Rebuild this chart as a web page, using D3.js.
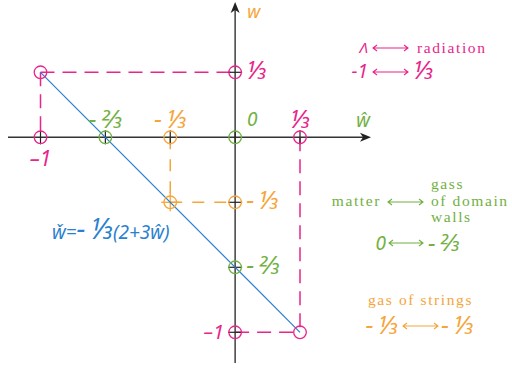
<!DOCTYPE html>
<html>
<head>
<meta charset="utf-8">
<script src="https://cdn.jsdelivr.net/npm/d3@7"></script>
<style>
  body { margin: 0; background: #fff; }
  svg { display: block; }
  .num { font-family: "Noto Sans", sans-serif; font-style: italic; }
  .word { font-family: "Liberation Serif", serif; letter-spacing: 1.6px; font-size: 15.5px; }
</style>
</head>
<body>
<svg width="512" height="368"></svg>
<script>
const svg = d3.select("svg");

const PINK = "#e8258a", GREEN = "#72b043", ORANGE = "#f5a53a", BLUE = "#2a7fcf";

// ====== Data ======
const pinkPoints = [[-1, 1/3], [0, 1/3], [-1, 0], [1/3, 0], [0, -1], [1/3, -1]];
const greenPoints = [[-2/3, 0], [0, 0], [0, -2/3]];
const orangePoints = [[-1/3, 0], [-1/3, -1/3], [0, -1/3]];

const lineEnds = [[-1, 1/3], [1/3, -1]];   // w = -1/3 (2 + 3 w^)

const pinkDashes = [
    [[-1, 1/3], [0, 1/3]],
    [[-1, 1/3], [-1, 0]],
    [[1/3, 0], [1/3, -1]],
    [[0, -1], [1/3, -1]]
];
const orangeDashes = [
    [[-1/3, 0], [-1/3, -1/3]],
    [[-1/3, -1/3], [0, -1/3]]
];

const axisXTicks = [-1, -2/3, -1/3, 0, 1/3];
const axisYTicks = [1/3, -1/3, -2/3, -1];

const xLabels = [
    {v: -1,   text: "–1", color: PINK,   size: 21, dy: 29},
    {v: -2/3, text: "–⅔", color: GREEN,  size: 17, dy: -9},
    {v: -1/3, text: "–⅓", color: ORANGE, size: 17, dy: -9},
    {v: 0,    text: "0",  color: GREEN,  size: 19, dy: -11, dx: 17},
    {v: 1/3,  text: "⅓",  color: PINK,   size: 17, dy: -9}
];
const yLabels = [
    {v: 1/3,  text: "⅓",  color: PINK,   size: 17, side: 1},
    {v: -1/3, text: "–⅓", color: ORANGE, size: 17, side: 1},
    {v: -2/3, text: "–⅔", color: GREEN,  size: 17, side: 1},
    {v: -1,   text: "–1", color: PINK,   size: 20, side: -1}
];

// ====== Scales ======
const x = d3.scaleLinear().domain([-1, 1/3]).range([40.5, 300]);
const y = d3.scaleLinear().domain([1/3, -1]).range([72.3, 332.3]);
const x0 = x(0), y0 = y(0);

// text with the fractions (and their minus sign) drawn larger
function fracText(t, str, size) {
    const parts = str.match(/–\s?[⅓⅔]|[⅓⅔]|[^⅓⅔–]+|–/g);
    t.selectAll("tspan").data(parts).enter().append("tspan")
        .attr("font-size", d => /[⅓⅔]/.test(d) ? size * 1.5 : size)
        .text(d => /[⅓⅔]/.test(d) ? d.replace(/–\s?/, "-\u2009") : d);
}

// ====== Axes ======
const axes = svg.append("g").attr("stroke", "#333").attr("stroke-width", 1.4);
axes.append("line").attr("x1", 8).attr("x2", 366).attr("y1", y0).attr("y2", y0);
axes.append("line").attr("x1", x0).attr("x2", x0).attr("y1", 363).attr("y2", 8);

svg.append("path")
    .attr("d", `M371,${y0} L360,${y0 - 4.5} L363,${y0} L360,${y0 + 4.5} Z`)
    .attr("fill", "#222");
svg.append("path")
    .attr("d", `M${x0},2 L${x0 - 4.5},13 L${x0},10 L${x0 + 4.5},13 Z`)
    .attr("fill", "#222");

// ====== Dashed guides ======
function dashes(data, color, pattern) {
    svg.append("g")
        .selectAll("line")
        .data(data)
        .enter().append("line")
            .attr("x1", d => x(d[0][0])).attr("y1", d => y(d[0][1]))
            .attr("x2", d => x(d[1][0])).attr("y2", d => y(d[1][1]))
            .attr("stroke", color)
            .attr("stroke-width", 1.5)
            .attr("stroke-dasharray", pattern);
}
dashes(pinkDashes, PINK, "14,8");
dashes(orangeDashes, ORANGE, "12,10");

// ====== Ticks ======
const ticks = svg.append("g").attr("stroke", "#222").attr("stroke-width", 1.2);
ticks.selectAll(".tx").data(axisXTicks).enter().append("line")
    .attr("x1", d => x(d)).attr("x2", d => x(d))
    .attr("y1", y0 - 7).attr("y2", y0 + 7);
ticks.selectAll(".ty").data(axisYTicks).enter().append("line")
    .attr("y1", d => y(d)).attr("y2", d => y(d))
    .attr("x1", x0 - 7).attr("x2", x0 + 7);

// orange cross at (-1/3,-1/3)
const oc = orangePoints[1];
svg.append("g").attr("stroke", ORANGE).attr("stroke-width", 1.3)
    .selectAll("line")
    .data([[-9, 0, 9, 0], [0, -10, 0, 9]])
    .enter().append("line")
        .attr("x1", d => x(oc[0]) + d[0]).attr("y1", d => y(oc[1]) + d[1])
        .attr("x2", d => x(oc[0]) + d[2]).attr("y2", d => y(oc[1]) + d[3]);

// ====== Main line ======
svg.append("line")
    .attr("x1", x(lineEnds[0][0])).attr("y1", y(lineEnds[0][1]))
    .attr("x2", x(lineEnds[1][0])).attr("y2", y(lineEnds[1][1]))
    .attr("stroke", BLUE)
    .attr("stroke-width", 1.2);

// ====== Circles ======
function circles(data, color) {
    svg.append("g")
        .selectAll("circle")
        .data(data)
        .enter().append("circle")
            .attr("cx", d => x(d[0])).attr("cy", d => y(d[1]))
            .attr("r", 6.3)
            .attr("fill", "none")
            .attr("stroke", color)
            .attr("stroke-width", 1.3);
}
circles(pinkPoints, PINK);
circles(greenPoints, GREEN);
circles(orangePoints, ORANGE);

// ====== Tick labels ======
svg.append("g").selectAll("text")
    .data(xLabels)
    .enter().append("text")
        .attr("class", "num")
        .attr("x", d => x(d.v) + (d.dx || 0))
        .attr("y", d => y0 + d.dy)
        .attr("text-anchor", "middle")
        .attr("fill", d => d.color)
        .each(function(d) { fracText(d3.select(this), d.text, d.size); });

svg.append("g").selectAll("text")
    .data(yLabels)
    .enter().append("text")
        .attr("class", "num")
        .attr("x", d => x0 + d.side * 11)
        .attr("y", d => y(d.v) + 7)
        .attr("text-anchor", d => d.side > 0 ? "start" : "end")
        .attr("fill", d => d.color)
        .each(function(d) { fracText(d3.select(this), d.text, d.size); });

// axis names
svg.append("text").attr("class", "num")
    .attr("x", x0 + 12).attr("y", 18)
    .attr("font-size", 18).attr("fill", ORANGE)
    .text("w");
svg.append("text").attr("class", "num")
    .attr("x", 363).attr("y", 127)
    .attr("text-anchor", "middle")
    .attr("font-size", 19).attr("fill", GREEN)
    .text("ŵ");

// formula
fracText(svg.append("text").attr("class", "num")
    .attr("x", 52).attr("y", 239)
    .attr("fill", BLUE), "w̌=– ⅓(2+3ŵ)", 19);

// ====== Legend ======
function arrow(g, x1, x2, yy, color) {
    g.append("path")
        .attr("d", `M${x1},${yy} H${x2} M${x1 + 4},${yy - 3} L${x1},${yy} L${x1 + 4},${yy + 3} M${x2 - 4},${yy - 3} L${x2},${yy} L${x2 - 4},${yy + 3}`)
        .attr("fill", "none")
        .attr("stroke", color)
        .attr("stroke-width", 1.1);
}

const leg = svg.append("g");

// radiation
leg.append("text").attr("class", "num").attr("x", 368).attr("y", 53)
    .attr("text-anchor", "end").attr("font-size", 15).attr("fill", PINK).text("Λ");
arrow(leg, 373, 408, 48, PINK);
leg.append("text").attr("class", "word").attr("x", 417).attr("y", 53)
    .attr("fill", PINK).text("radiation");
leg.append("text").attr("class", "num").attr("x", 368).attr("y", 78)
    .attr("text-anchor", "end").attr("font-size", 19).attr("fill", PINK).text("-1");
arrow(leg, 373, 408, 72, PINK);
fracText(leg.append("text").attr("class", "num").attr("x", 413).attr("y", 79)
    .attr("fill", PINK), "⅓", 17);

// domain walls
leg.append("text").attr("class", "word").attr("x", 381).attr("y", 206)
    .attr("text-anchor", "end").attr("fill", GREEN).text("matter");
arrow(leg, 388, 423, 202, GREEN);
leg.selectAll(".dw").data(["gass", "of domain", "walls"]).enter().append("text")
    .attr("class", "word").attr("x", 431).attr("y", (d, i) => 189 + i * 16.5)
    .attr("fill", GREEN).text(d => d);
leg.append("text").attr("class", "num").attr("x", 386).attr("y", 250)
    .attr("text-anchor", "end").attr("font-size", 19).attr("fill", GREEN).text("0");
arrow(leg, 389, 423, 243, GREEN);
fracText(leg.append("text").attr("class", "num").attr("x", 428).attr("y", 251)
    .attr("fill", GREEN), "–⅔", 16);

// strings
leg.append("text").attr("class", "word").attr("x", 368).attr("y", 305)
    .attr("fill", ORANGE).text("gas of strings");
fracText(leg.append("text").attr("class", "num").attr("x", 398).attr("y", 334)
    .attr("text-anchor", "end").attr("fill", ORANGE), "–⅓", 17);
arrow(leg, 403, 438, 326, ORANGE);
fracText(leg.append("text").attr("class", "num").attr("x", 441).attr("y", 334)
    .attr("fill", ORANGE), "–⅓", 17);
</script>
</body>
</html>
